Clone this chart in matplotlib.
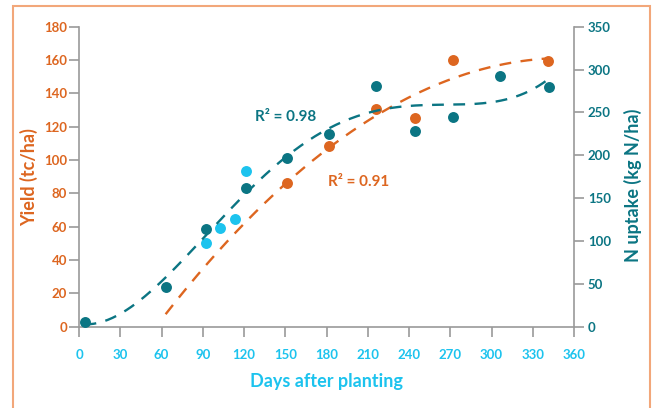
import numpy as np
import matplotlib
matplotlib.use('Agg')
import matplotlib.pyplot as plt
from matplotlib.patches import Rectangle

plt.rcParams['font.family'] = ['Lato', 'DejaVu Sans']

# 収量データ（日数, tc/ha）
yield_days = [151, 182, 216, 244, 272, 341]
yield_vals = [86.2, 108.6, 130.4, 125.0, 160.0, 159.4]

# N吸収量データ（日数, kg N/ha）
n_days = [4, 63, 92.5, 121.6, 151.2, 181.5, 215.7, 244, 272.3, 306, 341.7]
n_vals = [5.1, 46.0, 114.3, 161.5, 196.5, 224.5, 281.0, 228.7, 244.7, 292.8, 279.7]

# 別系列（水色）
n2_days = [92.5, 102.4, 113.6, 121.6]
n2_vals = [97.3, 114.8, 125.3, 182.0]

# 近似曲線の範囲
yield_fit_range = (63, 340)
n_fit_range = (4, 341)

orange = '#DD6620'
teal = '#0B7583'
cyan = '#1CC3EE'
grey = '#9A9A9A'

fig = plt.figure(figsize=(6.56, 4.08), dpi=100)
ax = fig.add_axes([79/656, 81.3/408, 495/656, 300/408])
ax2 = ax.twinx()

# 点
ax.scatter(yield_days, yield_vals, s=62, color=orange, zorder=3, linewidths=0)
ax2.scatter(n_days, n_vals, s=62, color=teal, zorder=3, linewidths=0)
ax2.scatter(n2_days, n2_vals, s=62, color=cyan, zorder=3, linewidths=0)

# 近似曲線（多項式）
c1 = np.polyfit(yield_days, yield_vals, 2)
x1 = np.linspace(*yield_fit_range, 200)
ax.plot(x1, np.polyval(c1, x1), color=orange, lw=1.7, dashes=(5, 4), zorder=4)

c2 = np.polyfit(n_days, n_vals, 4)
x2 = np.linspace(*n_fit_range, 200)
ax2.plot(x2, np.polyval(c2, x2), color=teal, lw=1.7, dashes=(5, 4), zorder=4)

ax.text(128, 125.8, 'R² = 0.98', color=teal, fontsize=11, fontweight='bold', va='center')
ax.text(181, 86.8, 'R² = 0.91', color=orange, fontsize=11, fontweight='bold', va='center')

ax.set_xlim(0, 360)
ax.set_ylim(0, 180)
ax2.set_ylim(0, 350)
ax.set_xticks(range(0, 361, 30))
ax.set_yticks(range(0, 181, 20))
ax2.set_yticks(range(0, 351, 50))

for s in ['top', 'right']:
    ax.spines[s].set_visible(False)
for s in ['top', 'left', 'bottom']:
    ax2.spines[s].set_visible(False)
ax.spines['left'].set_color(grey)
ax.spines['bottom'].set_color(grey)
ax2.spines['right'].set_color(grey)
for sp in [ax.spines['left'], ax.spines['bottom'], ax2.spines['right']]:
    sp.set_linewidth(1.2)

ax.tick_params(axis='y', colors=grey, labelcolor=orange, length=7, width=1.2, pad=1.5, labelsize=9.5)
ax.tick_params(axis='x', colors=grey, labelcolor=cyan, length=7, width=1.2, pad=9, labelsize=9.5)
ax2.tick_params(axis='y', colors=grey, labelcolor=teal, length=7, width=1.2, pad=3, labelsize=9.5)
for lab in ax.get_xticklabels() + ax.get_yticklabels() + ax2.get_yticklabels():
    lab.set_fontweight('bold')

ax.set_xlabel('Days after planting', color=cyan, fontsize=13, fontweight='bold')
ax.xaxis.set_label_coords(0.5, -0.155)
ax.set_ylabel('Yield (tc/ha)', color=orange, fontsize=13, fontweight='bold')
ax.yaxis.set_label_coords(-0.083, 0.5)
ax2.set_ylabel('N uptake (kg N/ha)', color=teal, fontsize=13, fontweight='bold')
ax2.yaxis.set_label_coords(1.101, 0.47)

# 外枠
fig.patches.append(Rectangle((13/656, -0.05), 637/656, 1.05 - 6/408, transform=fig.transFigure,
                             fill=False, edgecolor='#F2A77A', lw=1.5))

fig.savefig('out.png', dpi=100)
